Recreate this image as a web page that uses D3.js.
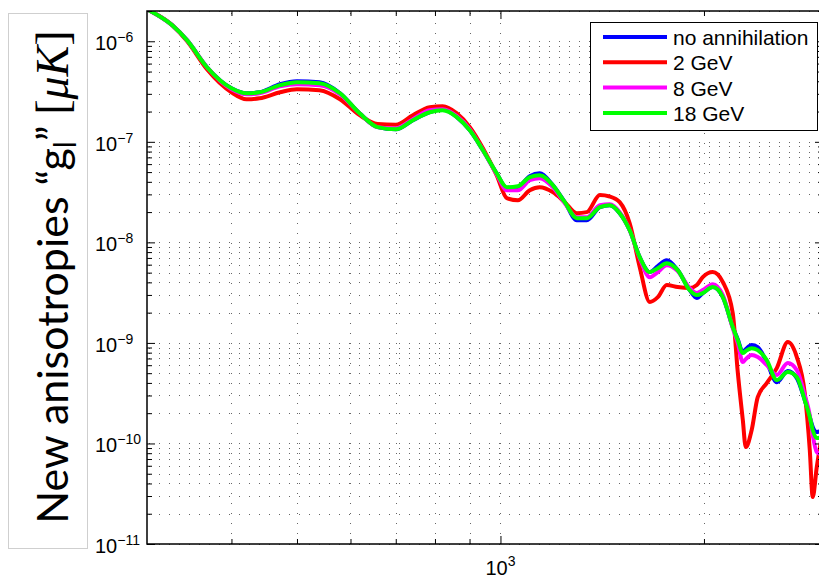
<!DOCTYPE html>
<html>
<head>
<meta charset="utf-8">
<script src="https://cdn.jsdelivr.net/npm/d3@7"></script>
<style>
  body { margin: 0; background: #fff; }
  svg { display: block; }
</style>
</head>
<body>
<script>
'use strict';

// multipole l, shared by every curve
const ELL = [300, 327, 344, 368, 400, 421, 440, 472, 500, 540,
  579, 619, 658, 700, 742, 786, 821, 862, 901, 942,
  987, 1022, 1061, 1105, 1143, 1195, 1245, 1297, 1342, 1403,
  1451, 1501, 1553, 1607, 1663, 1709, 1762, 1829, 1905, 1952,
  1992, 2061, 2133, 2206, 2244, 2283, 2306, 2353, 2402, 2477,
  2563, 2661, 2744, 2819, 2868, 2897, 2937, 3000];

// g_l in muK
const NO_ANNIHILATION = [2.08e-6, 1.44e-6, 1.02e-6, 5.52e-7, 3.41e-7, 3.04e-7, 3.11e-7, 3.74e-7, 4.00e-7, 3.91e-7,
  3.04e-7, 1.92e-7, 1.40e-7, 1.33e-7, 1.64e-7, 1.97e-7, 2.11e-7, 1.76e-7, 1.30e-7, 8.24e-8,
  4.87e-8, 3.46e-8, 3.54e-8, 4.55e-8, 4.87e-8, 3.71e-8, 2.51e-8, 1.66e-8, 1.66e-8, 2.24e-8,
  2.34e-8, 1.95e-8, 1.32e-8, 7.13e-9, 5.06e-9, 5.80e-9, 6.65e-9, 5.30e-9, 3.35e-9, 2.79e-9,
  3.13e-9, 3.59e-9, 2.85e-9, 1.44e-9, 1.09e-9, 8.11e-10, 8.67e-10, 9.51e-10, 9.09e-10, 6.44e-10,
  4.07e-10, 5.25e-10, 4.47e-10, 2.70e-10, 1.83e-10, 1.46e-10, 1.30e-10, 1.36e-10];

const GEV_2 = [2.08e-6, 1.44e-6, 1.00e-6, 5.27e-7, 3.11e-7, 2.65e-7, 2.71e-7, 3.11e-7, 3.33e-7, 3.26e-7,
  2.65e-7, 1.84e-7, 1.50e-7, 1.48e-7, 1.84e-7, 2.21e-7, 2.26e-7, 1.92e-7, 1.40e-7, 8.63e-8,
  4.66e-8, 2.75e-8, 2.62e-8, 3.30e-8, 3.54e-8, 3.16e-8, 2.51e-8, 1.95e-8, 2.00e-8, 2.96e-8,
  2.86e-8, 2.51e-8, 1.55e-8, 5.67e-9, 2.55e-9, 2.85e-9, 3.76e-9, 3.59e-9, 3.51e-9, 3.76e-9,
  4.51e-9, 5.06e-9, 4.02e-9, 1.98e-9, 5.13e-10, 1.71e-10, 9.20e-11, 1.36e-10, 2.89e-10, 3.98e-10,
  5.62e-10, 1.02e-9, 7.23e-10, 3.17e-10, 8.59e-11, 2.93e-11, 5.82e-11, 1.36e-10];

const GEV_8 = [2.08e-6, 1.44e-6, 1.02e-6, 5.52e-7, 3.33e-7, 2.97e-7, 3.04e-7, 3.57e-7, 3.74e-7, 3.66e-7,
  2.97e-7, 1.92e-7, 1.40e-7, 1.36e-7, 1.68e-7, 2.06e-7, 2.11e-7, 1.80e-7, 1.33e-7, 8.24e-8,
  4.76e-8, 3.30e-8, 3.30e-8, 4.15e-8, 4.35e-8, 3.54e-8, 2.45e-8, 1.78e-8, 1.78e-8, 2.34e-8,
  2.40e-8, 2.00e-8, 1.32e-8, 6.97e-9, 4.51e-9, 5.06e-9, 5.93e-9, 5.18e-9, 3.51e-9, 3.13e-9,
  3.35e-9, 3.84e-9, 2.99e-9, 1.40e-9, 9.96e-10, 6.44e-10, 6.90e-10, 7.57e-10, 7.23e-10, 6.01e-10,
  4.79e-10, 6.30e-10, 5.37e-10, 3.03e-10, 1.91e-10, 1.21e-10, 8.22e-11, 7.67e-11];

const GEV_18 = [2.08e-6, 1.44e-6, 1.02e-6, 5.52e-7, 3.41e-7, 3.04e-7, 3.11e-7, 3.66e-7, 3.91e-7, 3.83e-7,
  3.04e-7, 1.92e-7, 1.40e-7, 1.33e-7, 1.64e-7, 1.97e-7, 2.06e-7, 1.76e-7, 1.30e-7, 8.24e-8,
  4.87e-8, 3.54e-8, 3.62e-8, 4.45e-8, 4.66e-8, 3.71e-8, 2.51e-8, 1.74e-8, 1.74e-8, 2.24e-8,
  2.34e-8, 1.95e-8, 1.32e-8, 7.13e-9, 5.06e-9, 5.54e-9, 6.21e-9, 5.30e-9, 3.35e-9, 2.99e-9,
  3.13e-9, 3.59e-9, 2.85e-9, 1.44e-9, 1.07e-9, 7.93e-10, 8.30e-10, 8.87e-10, 8.48e-10, 6.75e-10,
  4.27e-10, 5.13e-10, 4.57e-10, 2.70e-10, 1.83e-10, 1.36e-10, 1.13e-10, 1.16e-10];

const LEGEND_LABELS = ['no annihilation', '2 GeV', '8 GeV', '18 GeV'];
const SERIES = [NO_ANNIHILATION, GEV_2, GEV_8, GEV_18];
const COLORS = ['#0000ff', '#ff0000', '#ff00ff', '#00ff00'];

// tick labels
const Y_TICKS = [1e-6, 1e-7, 1e-8, 1e-9, 1e-10, 1e-11];
const Y_TICK_EXP = ['\u22126', '\u22127', '\u22128', '\u22129', '\u221210', '\u221211'];
const X_TICKS = [1000];
const X_TICK_EXP = ['3'];

const DIMENSIONS = {
	'canvas': { 'width': 819, 'height': 578 },
	'plot': { 'left': 147, 'right': 823, 'top': 11, 'bottom': 544 }
};
const P = DIMENSIONS.plot;

let svg = d3.select('body').append('svg')
	.attr('width', DIMENSIONS.canvas.width)
	.attr('height', DIMENSIONS.canvas.height);

let xScale = d3.scaleLog().domain([300, 3000]).range([P.left, P.right]);
let yScale = d3.scaleLog().domain([1e-11, 2e-6]).range([P.bottom, P.top]);

// minor positions for the grid and the small ticks
let yMinor = [];
for (let e = -11; e <= -6; e++) {
	for (let m = 2; m <= 9; m++) {
		let v = m * Math.pow(10, e);
		if (v <= 2e-6) yMinor.push(v);
	}
}
let xMinor = [400, 500, 600, 700, 800, 900, 2000];

// dotted grid (minor and major)
let grid = svg.append('g')
	.attr('stroke', '#000')
	.attr('stroke-opacity', 0.6)
	.attr('stroke-width', 1)
	.attr('stroke-dasharray', '1,9')
	.attr('shape-rendering', 'crispEdges');
grid.selectAll('line.gy')
	.data(yMinor.concat(Y_TICKS))
	.enter().append('line')
	.attr('x1', P.left + 2).attr('x2', P.right)
	.attr('y1', (d) => Math.round(yScale(d)) + 0.5)
	.attr('y2', (d) => Math.round(yScale(d)) + 0.5);
grid.selectAll('line.gx')
	.data(xMinor.concat(X_TICKS))
	.enter().append('line')
	.attr('y1', P.top + 2).attr('y2', P.bottom)
	.attr('x1', (d) => Math.round(xScale(d)) + 0.5)
	.attr('x2', (d) => Math.round(xScale(d)) + 0.5);

// curves, clipped to the axes box
svg.append('clipPath').attr('id', 'clip')
	.append('rect')
	.attr('x', P.left).attr('y', P.top)
	.attr('width', P.right - P.left).attr('height', P.bottom - P.top);

let line = d3.line()
	.x((d, i) => xScale(ELL[i]))
	.y((d) => yScale(d))
	.curve(d3.curveMonotoneX);

svg.append('g').attr('clip-path', 'url(#clip)')
	.selectAll('path')
	.data(SERIES)
	.enter().append('path')
	.attr('d', (d) => line(d))
	.attr('fill', 'none')
	.attr('stroke', (d, i) => COLORS[i])
	.attr('stroke-width', 4)
	.attr('stroke-linejoin', 'round');

// inside ticks on all four sides
function ticks(axis, values, size, transform) {
	svg.append('g')
		.attr('transform', transform)
		.call(axis.tickValues(values).tickSize(size).tickFormat(''))
		.call((g) => g.select('.domain').remove())
		.call((g) => g.selectAll('line').attr('stroke', '#000'));
}
ticks(d3.axisLeft(yScale), Y_TICKS, -8, 'translate(' + P.left + ',0)');
ticks(d3.axisLeft(yScale), yMinor, -5, 'translate(' + P.left + ',0)');
ticks(d3.axisRight(yScale), Y_TICKS, -8, 'translate(' + P.right + ',0)');
ticks(d3.axisRight(yScale), yMinor, -5, 'translate(' + P.right + ',0)');
ticks(d3.axisBottom(xScale), X_TICKS, -8, 'translate(0,' + P.bottom + ')');
ticks(d3.axisBottom(xScale), xMinor, -5, 'translate(0,' + P.bottom + ')');
ticks(d3.axisTop(xScale), X_TICKS, -8, 'translate(0,' + P.top + ')');
ticks(d3.axisTop(xScale), xMinor, -5, 'translate(0,' + P.top + ')');

// axes box
svg.append('rect')
	.attr('x', P.left).attr('y', P.top)
	.attr('width', P.right - P.left).attr('height', P.bottom - P.top)
	.attr('fill', 'none').attr('stroke', '#000').attr('stroke-width', 1.5);

// tick labels as 10^n
let yLabels = svg.append('g')
	.attr('font-family', '"Liberation Sans", Arial, sans-serif')
	.attr('fill', '#000');
Y_TICKS.forEach((v, i) => {
	let t = yLabels.append('text')
		.attr('x', 95)
		.attr('y', yScale(v) + 9)
		.attr('font-size', 20);
	t.append('tspan').text('10');
	t.append('tspan').attr('font-size', 14).attr('dy', -8).text(Y_TICK_EXP[i]);
});
X_TICKS.forEach((v, i) => {
	let t = svg.append('text')
		.attr('font-family', '"Liberation Sans", Arial, sans-serif')
		.attr('x', xScale(v))
		.attr('y', 575)
		.attr('text-anchor', 'middle')
		.attr('font-size', 20);
	t.append('tspan').text('10');
	t.append('tspan').attr('font-size', 14).attr('dy', -9).text(X_TICK_EXP[i]);
});

// y axis title in its pasted box
svg.append('rect')
	.attr('x', 8.5).attr('y', 13.5).attr('width', 79).attr('height', 535)
	.attr('fill', '#fff').attr('stroke', '#cfcfcf').attr('stroke-width', 1);
let yTitle = svg.append('text')
	.attr('transform', 'translate(68,277) rotate(-90)')
	.attr('text-anchor', 'middle')
	.attr('font-family', 'Lato, "Open Sans", sans-serif')
	.attr('font-size', 43)
	.attr('fill', '#000');
yTitle.append('tspan').text('New anisotropies \u201Cg');
yTitle.append('tspan').attr('font-size', 30).attr('dy', 8).text('l');
yTitle.append('tspan').attr('dy', -8).text('\u201D ');
yTitle.append('tspan').attr('font-family', '"Liberation Serif", serif').attr('font-size', 46).text('[');
yTitle.append('tspan').attr('font-family', '"Liberation Serif", serif').attr('font-style', 'italic').attr('font-size', 46).text('\u03BCK');
yTitle.append('tspan').attr('font-family', '"Liberation Serif", serif').attr('font-size', 46).text(']');

// legend
let legend = svg.append('g');
legend.append('rect')
	.attr('x', 590.5).attr('y', 22.5).attr('width', 227).attr('height', 108)
	.attr('fill', '#fff').attr('stroke', '#000').attr('stroke-width', 1);
LEGEND_LABELS.forEach((label, i) => {
	let ly = 37 + i * 25.3;
	legend.append('line')
		.attr('x1', 603).attr('x2', 667)
		.attr('y1', ly).attr('y2', ly)
		.attr('stroke', COLORS[i]).attr('stroke-width', 4);
	legend.append('text')
		.attr('x', 673).attr('y', ly + 8)
		.attr('font-family', '"Liberation Sans", Arial, sans-serif')
		.attr('font-size', 21)
		.text(label);
});
</script>
</body>
</html>
